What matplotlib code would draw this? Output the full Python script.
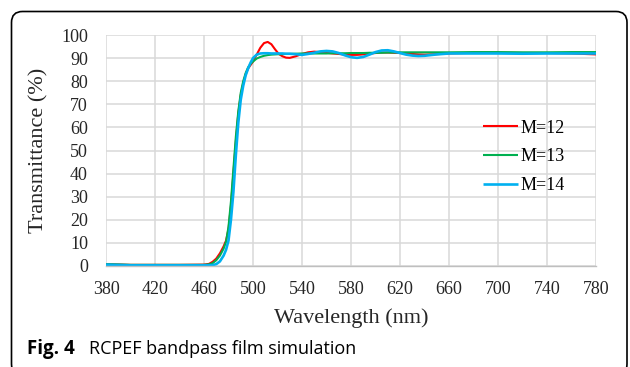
"""RCPEF bandpass film simulation: transmittance vs wavelength."""

import matplotlib

matplotlib.use("Agg")
import matplotlib.pyplot as plt
from matplotlib.patches import FancyBboxPatch
from matplotlib.transforms import IdentityTransform

# Values
wavelength = [
    380, 400, 420, 440, 460, 464, 467, 470, 473, 476, 478, 480, 482, 484,
    486, 488, 490, 492, 494, 496, 498, 500, 503, 506, 509, 512, 515, 518,
    521, 524, 527, 530, 535, 540, 545, 550, 555, 560, 565, 570, 575, 580,
    585, 590, 595, 600, 605, 610, 615, 620, 625, 630, 635, 640, 645, 650,
    660, 680, 700, 720, 740, 760, 780,
]
t_m12 = [
    0.8, 0.5, 0.5, 0.5, 0.6, 0.9, 1.8, 3.2, 5.5, 8.5, 11, 16, 26, 40,
    54, 66, 74, 79, 83, 85.5, 87, 88.5, 91.5, 94.5, 96.5, 97, 96, 93.8,
    91.8, 90.8, 90.2, 90.1, 90.8, 91.8, 92.5, 92.8, 92.6, 92.3, 92.0, 91.8, 91.5, 91.4,
    91.4, 91.6, 91.9, 92.2, 92.4, 92.4, 92.3, 92.2, 92.0, 91.8, 91.6, 91.5, 91.6, 91.7,
    92.0, 92.3, 92.3, 92.2, 92.2, 92.0, 91.6,
]
t_m13 = [
    0.8, 0.5, 0.5, 0.5, 0.5, 0.7, 1.2, 2.5, 4.5, 7.5, 10.5, 17, 28, 42,
    56, 67, 75, 80, 83.5, 86, 87.5, 88.5, 89.8, 90.5, 91.0, 91.3, 91.5, 91.6,
    91.7, 91.7, 91.8, 91.8, 91.9, 92.0, 92.0, 92.0, 92.0, 92.0, 92.1, 92.1, 92.1, 92.2,
    92.2, 92.2, 92.3, 92.3, 92.3, 92.4, 92.4, 92.5, 92.5, 92.5, 92.5, 92.5, 92.5, 92.5,
    92.5, 92.6, 92.6, 92.5, 92.5, 92.6, 92.6,
]
t_m14 = [
    0.6, 0.3, 0.3, 0.3, 0.3, 0.3, 0.4, 0.8, 2.0, 4.5, 7, 11, 20, 32,
    48, 62, 72, 78, 82.5, 85.5, 88, 90, 91.5, 92.0, 92.1, 92.1, 92.0, 92.0,
    92.0, 92.0, 91.9, 91.9, 91.7, 91.4, 91.8, 92.3, 92.9, 93.1, 92.9, 92.2, 91.2, 90.4,
    90.1, 90.5, 91.5, 92.6, 93.3, 93.4, 92.9, 92.2, 91.5, 91.1, 90.9, 91.0, 91.3, 91.6,
    92.0, 92.0, 92.0, 91.9, 92.0, 92.0, 92.0,
]
series = [("M=12", t_m12, "#FF0000", 1.5), ("M=13", t_m13, "#00B050", 1.5), ("M=14", t_m14, "#00B0F0", 1.9)]
x_ticks = list(range(380, 781, 40))
y_ticks = list(range(0, 101, 10))

serif = ["Liberation Serif", "DejaVu Serif"]

fig = plt.figure(figsize=(6.3, 3.67), dpi=100)
ax = fig.add_axes([106 / 630, 1 - 266 / 367, 490 / 630, 231 / 367])

for label, values, color, lw in series:
    ax.plot(wavelength, values, color=color, linewidth=lw, label=label, solid_capstyle="butt")

ax.set_xlim(380, 780)
ax.set_ylim(0, 100)
ax.set_xticks(x_ticks)
ax.set_yticks(y_ticks)
ax.grid(True, color="#D9D9D9", linewidth=1.1)
ax.set_axisbelow(True)
for side in ["top", "right", "left"]:
    ax.spines[side].set_visible(False)
ax.spines["bottom"].set_color("#BFBFBF")
ax.spines["bottom"].set_linewidth(1.0)
ax.tick_params(length=0, labelsize=13, colors="#262626")
ax.tick_params(axis="x", pad=11)
ax.tick_params(axis="y", pad=13)
for lab in ax.get_xticklabels() + ax.get_yticklabels():
    lab.set_family(serif)

ax.set_xlabel("Wavelength (nm)", fontsize=16, family=serif, color="#262626", labelpad=7)
ax.set_ylabel("Transmittance (%)", fontsize=16, family=serif, color="#262626", labelpad=9)

ax.legend(
    loc="upper left",
    bbox_to_anchor=(0.751, 0.673),
    frameon=False,
    borderpad=0,
    handlelength=1.95,
    handletextpad=0.15,
    labelspacing=0.65,
    prop={"family": serif, "size": 13},
)

# rounded frame and caption
frame = FancyBboxPatch(
    (11.5, -8), 615.5, 363.5,
    boxstyle="round,pad=0,rounding_size=11",
    transform=IdentityTransform(),
    facecolor="none", edgecolor="black", linewidth=1.2,
)
fig.patches.append(frame)
fig.text(27 / 630, 1 - 354 / 367, "Fig. 4", fontsize=13.5, fontweight="bold",
         family="Open Sans", va="baseline")
fig.text(89 / 630, 1 - 354 / 367, "RCPEF bandpass film simulation", fontsize=13,
         family="Open Sans", va="baseline")

fig.savefig("out.png", dpi=100)
